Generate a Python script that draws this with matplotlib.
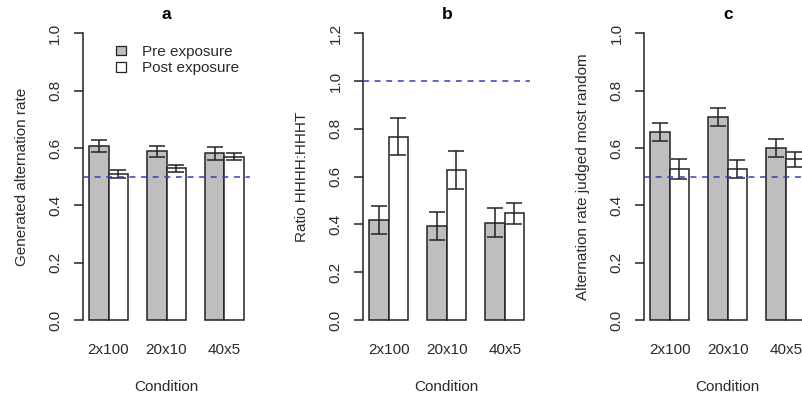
import numpy as np
import matplotlib
matplotlib.use("Agg")
import matplotlib.pyplot as plt
from matplotlib.patches import Patch

plt.rcParams["font.family"] = ["Liberation Sans", "DejaVu Sans"]
plt.rcParams["font.size"] = 11

conditions = ["2x100", "20x10", "40x5"]

# a: generated alternation rate
gen_pre = [0.607, 0.588, 0.581]
gen_pre_se = [0.020, 0.020, 0.022]
gen_post = [0.509, 0.529, 0.570]
gen_post_se = [0.0145, 0.013, 0.012]

# b: ratio HHHH:HHHT
ratio_pre = [0.419, 0.393, 0.407]
ratio_pre_se = [0.058, 0.058, 0.060]
ratio_post = [0.767, 0.628, 0.446]
ratio_post_se = [0.077, 0.078, 0.045]

# c: alternation rate judged most random
judged_pre = [0.655, 0.709, 0.600]
judged_pre_se = [0.032, 0.032, 0.031]
judged_post = [0.527, 0.527, 0.561]
judged_post_se = [0.034, 0.032, 0.026]

panels = [
    ("a", "Generated alternation rate", gen_pre, gen_pre_se, gen_post, gen_post_se, 1.0, 0.5),
    ("b", "Ratio HHHH:HHHT", ratio_pre, ratio_pre_se, ratio_post, ratio_post_se, 1.2, 1.0),
    ("c", "Alternation rate judged most random", judged_pre, judged_pre_se, judged_post, judged_post_se, 1.0, 0.5),
]

W, H = 802, 396
fig = plt.figure(figsize=(W / 100, H / 100), dpi=100)

lefts = [83, 363.3, 644.3]
top_px, bot_px = 21.8, 331.5
width_px = 167

# R barplot style positions: bar width 1, gap of 1 between groups
pre_x = np.array([1.5, 4.5, 7.5])
post_x = pre_x + 1
centers = pre_x + 0.5

ink = "#222222"
txt = "#2a2a2a"

for (tag, ylab, pre, pre_se, post, post_se, ymax, ref), left in zip(panels, lefts):
    ax = fig.add_axes([left / W, (H - bot_px) / H, width_px / W, (bot_px - top_px) / H])
    pad = 0.04 * ymax
    ax.set_xlim(0.68, 9.32)
    ax.set_ylim(-pad, ymax + pad)

    ax.bar(pre_x, pre, width=1, color="#bebebe", edgecolor=ink, linewidth=1.1, zorder=2)
    ax.bar(post_x, post, width=1, color="white", edgecolor=ink, linewidth=1.1, zorder=2)
    ax.errorbar(pre_x, pre, yerr=pre_se, fmt="none", ecolor=ink, elinewidth=1.1,
                capsize=5.8, capthick=1.1, zorder=3)
    ax.errorbar(post_x, post, yerr=post_se, fmt="none", ecolor=ink, elinewidth=1.1,
                capsize=5.8, capthick=1.1, zorder=3)
    ax.axhline(ref, color="#3040b8", linewidth=1.1, linestyle=(0, (3.9, 3.7)), zorder=4)

    for s in ["top", "right", "bottom"]:
        ax.spines[s].set_visible(False)
    ax.spines["left"].set_bounds(0, ymax)
    ax.spines["left"].set_linewidth(1.1)
    ax.spines["left"].set_color(ink)

    ticks = np.arange(0, ymax + 0.01, 0.2)
    ax.set_yticks(ticks)
    ax.set_yticklabels([f"{v:.1f}" for v in ticks], rotation=90, va="center", color=txt)
    ax.tick_params(axis="y", length=6.5, width=1.1, color=ink, pad=8.5)
    ax.set_xticks(centers)
    ax.set_xticklabels(conditions, color=txt)
    ax.tick_params(axis="x", length=0, pad=8)

    ax.set_ylabel(ylab, color=txt, labelpad=14)
    ax.set_xlabel("Condition", color=txt, labelpad=17)
    ax.set_title(tag, fontweight="bold", fontsize=12.5, pad=-0.5)
    ax.patch.set_visible(False)

    if tag == "a":
        handles = [Patch(facecolor="#bebebe", edgecolor=ink, linewidth=0.9),
                   Patch(facecolor="white", edgecolor=ink, linewidth=0.9)]
        ax.legend(handles, ["Pre exposure", "Post exposure"], loc="upper left",
                  bbox_to_anchor=(0.2, 0.925), frameon=False, borderpad=0,
                  borderaxespad=0, handlelength=0.6, handleheight=0.6,
                  handletextpad=1.1, labelspacing=0.15, labelcolor=txt)

fig.savefig("out.png", dpi=100)
